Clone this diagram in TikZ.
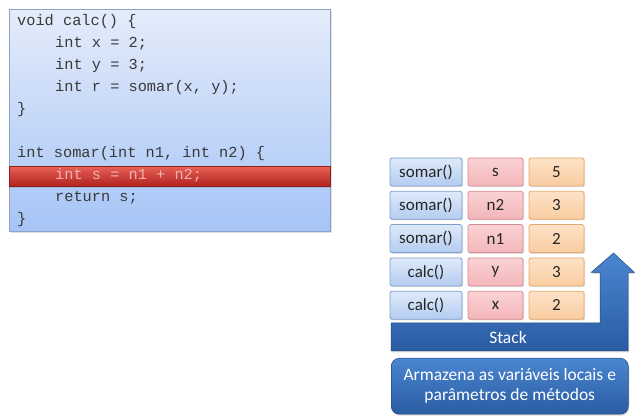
\documentclass[tikz,border=0pt]{standalone}
\usepackage{fontspec}
\setmainfont{Carlito}
\newfontfamily\codefont{Liberation Mono}
\usetikzlibrary{shadows}
\definecolor{codetop}{RGB}{228,236,250}
\definecolor{codebot}{RGB}{166,196,246}
\definecolor{codeedge}{RGB}{140,162,198}
\definecolor{codetext}{RGB}{58,58,58}
\definecolor{hltop}{RGB}{232,96,86}
\definecolor{hlbot}{RGB}{176,34,30}
\definecolor{hledge}{RGB}{140,30,28}
\definecolor{hltext}{RGB}{240,178,176}
\definecolor{bluetop}{RGB}{222,234,250}
\definecolor{bluebot}{RGB}{180,204,240}
\definecolor{blueedge}{RGB}{126,158,206}
\definecolor{redtop}{RGB}{250,210,212}
\definecolor{redbot}{RGB}{243,182,186}
\definecolor{rededge}{RGB}{214,140,146}
\definecolor{ortop}{RGB}{253,226,198}
\definecolor{orbot}{RGB}{250,204,160}
\definecolor{oredge}{RGB}{228,168,112}
\definecolor{stacktop}{RGB}{74,134,208}
\definecolor{stackbot}{RGB}{42,92,162}
\definecolor{celltext}{RGB}{38,38,38}
\tikzset{
  codeline/.style={anchor=base west, inner sep=0pt, font=\codefont\fontsize{15.3}{18}\selectfont, text=codetext},
  cellbase/.style={minimum height=28pt, rounded corners=1.5pt, line width=0.8pt, inner sep=0pt,
    font=\fontsize{17}{20}\selectfont, text=celltext,
    drop shadow={shadow xshift=1pt, shadow yshift=-1.2pt, opacity=0.25}},
  cellblue/.style={cellbase, minimum width=72pt, draw=blueedge, top color=bluetop, bottom color=bluebot},
  cellred/.style={cellbase, minimum width=55pt, draw=rededge, top color=redtop, bottom color=redbot},
  cellor/.style={cellbase, minimum width=55pt, draw=oredge, top color=ortop, bottom color=orbot},
}
\begin{document}
\begin{tikzpicture}[x=1pt,y=-1pt]
\useasboundingbox (0,0) rectangle (635,419);
% code box
\node[anchor=north west, minimum width=321pt, minimum height=222pt, inner sep=0pt,
  draw=codeedge, line width=0.8pt, top color=codetop, bottom color=codebot,
  drop shadow={shadow xshift=1.5pt, shadow yshift=-1.5pt, opacity=0.25}] (code) at (9,9) {};
\node[anchor=north west, minimum width=321pt, minimum height=20pt, inner sep=0pt,
  draw=hledge, line width=0.6pt, top color=hltop, bottom color=hlbot,
  drop shadow={shadow xshift=0pt, shadow yshift=-1.5pt, opacity=0.3}] (hl) at (9,166) {};
\node[codeline] (l1) at (17,26) {void calc() \{};
\node[codeline] (l2) at (55,48) {int x = 2;};
\node[codeline] (l3) at (55,70) {int y = 3;};
\node[codeline] (l4) at (55,92) {int r = somar(x, y);};
\node[codeline] (l5) at (17,114) {\}};
\node[codeline] (l6) at (17,158) {int somar(int n1, int n2) \{};
\node[codeline, text=hltext] (l7) at (55,180) {int s = n1 + n2;};
\node[codeline] (l8) at (55,202) {return s;};
\node[codeline] (l9) at (17,224) {\}};
% stack cells
\node[cellblue] (f1) at (426,172) {somar()};
\node[cellred]  (v1) at (495.5,172) {s};
\node[cellor]   (n1) at (556.5,172) {5};
\node[cellblue] (f2) at (426,205.3) {somar()};
\node[cellred]  (v2) at (495.5,205.3) {n2};
\node[cellor]   (n2) at (556.5,205.3) {3};
\node[cellblue] (f3) at (426,238.6) {somar()};
\node[cellred]  (v3) at (495.5,238.6) {n1};
\node[cellor]   (n3) at (556.5,238.6) {2};
\node[cellblue] (f4) at (426,272) {calc()};
\node[cellred]  (v4) at (495.5,272) {y};
\node[cellor]   (n4) at (556.5,272) {3};
\node[cellblue] (f5) at (426,305.3) {calc()};
\node[cellred]  (v5) at (495.5,305.3) {x};
\node[cellor]   (n5) at (556.5,305.3) {2};
% stack arrow
\path[top color=stacktop, bottom color=stackbot, draw=stackbot!80!black, line width=0.5pt,
  drop shadow={shadow xshift=1.2pt, shadow yshift=-1.5pt, opacity=0.3}]
  (391,323) -- (600,323) -- (600,272.5) -- (591,272.5) -- (613.5,253) -- (634.5,272.5)
  -- (628,272.5) -- (628,351) -- (391,351) -- cycle;
\node[text=white, font=\fontsize{17.5}{20}\selectfont] (stack) at (508,337.5) {Stack};
% note
\node[anchor=north west, minimum width=237pt, minimum height=56pt, inner sep=0pt,
  rounded corners=8pt, top color=stacktop, bottom color=stackbot, draw=stackbot!80!black, line width=0.5pt,
  drop shadow={shadow xshift=1.2pt, shadow yshift=-1.5pt, opacity=0.3},
  text=white, align=center, font=\fontsize{17.5}{20}\selectfont] (note) at (391,358)
  {Armazena as variáveis locais e\\parâmetros de métodos};
\end{tikzpicture}
\end{document}
